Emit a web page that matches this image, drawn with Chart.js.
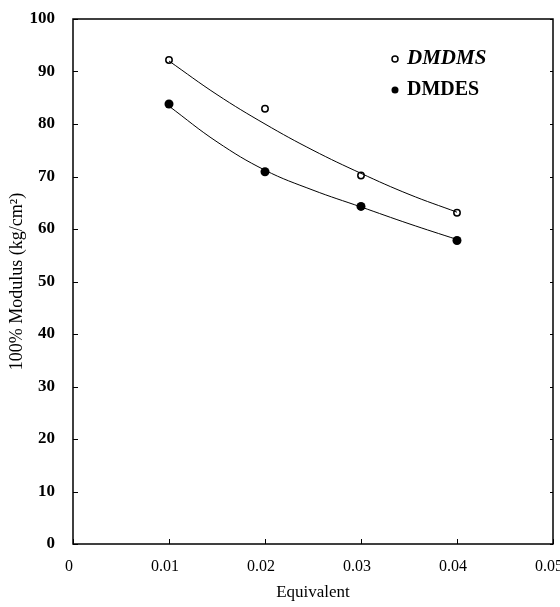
<!DOCTYPE html>
<html>
<head>
<meta charset="utf-8">
<script src="https://cdn.jsdelivr.net/npm/chart.js@4"></script>
<style>
  html, body { margin: 0; padding: 0; background: #fff; overflow: hidden; }
  #wrap { width: 560px; height: 607px; }
</style>
</head>
<body>
<div id="wrap"><canvas id="cv"></canvas></div>
<script>
// measured points
let equiv = [0.01, 0.02, 0.03, 0.04];
let dmdms = [92.2, 82.9, 70.2, 63.1];
let dmdes = [83.8, 70.9, 64.3, 57.8];

// fitted curves
let fitX = [0.01, 0.015, 0.02, 0.025, 0.03, 0.035, 0.04];
let fitDmdms = [92.0, 85.6, 80.0, 75.0, 70.6, 66.6, 63.2];
let fitDmdes = [83.4, 76.6, 71.2, 67.4, 64.2, 61.0, 58.0];

let xTicks = [0, 0.01, 0.02, 0.03, 0.04, 0.05];
let yTicks = [0, 10, 20, 30, 40, 50, 60, 70, 80, 90, 100];

function pts(xs, ys){
    return xs.map(function(x, i){ return {x: x, y: ys[i]}; });
}

// frame, inward ticks and legend
let framePlugin = {
    id: 'frame',
    afterDraw: function(chart){
        let c = chart.ctx;
        let a = chart.chartArea;
        let xs = chart.scales.x;
        let ys = chart.scales.y;
        c.save();
        c.strokeStyle = '#000';
        c.lineWidth = 1.5;
        c.strokeRect(a.left, a.top, a.right - a.left, a.bottom - a.top);
        c.lineWidth = 1;
        c.beginPath();
        xTicks.forEach(function(v){
            let px = Math.round(xs.getPixelForValue(v)) + 0.5;
            c.moveTo(px, a.bottom);
            c.lineTo(px, a.bottom - 5);
        });
        yTicks.forEach(function(v){
            let py = Math.round(ys.getPixelForValue(v)) + 0.5;
            c.moveTo(a.left, py);
            c.lineTo(a.left + 5, py);
            c.moveTo(a.right, py);
            c.lineTo(a.right - 3, py);
        });
        c.stroke();

        // legend
        let lx = a.left + 322;
        let ly1 = a.top + 40;
        let ly2 = a.top + 71;
        c.beginPath();
        c.arc(lx, ly1, 3, 0, Math.PI * 2);
        c.fillStyle = '#fff';
        c.fill();
        c.lineWidth = 1.5;
        c.stroke();
        c.beginPath();
        c.arc(lx, ly2, 3.5, 0, Math.PI * 2);
        c.fillStyle = '#000';
        c.fill();
        c.textBaseline = 'middle';
        c.textAlign = 'left';
        c.font = 'italic bold 21px "Liberation Serif"';
        c.fillText('DMDMS', lx + 12, ly1);
        c.font = 'bold 20px "Liberation Serif"';
        c.fillText('DMDES', lx + 12, ly2);
        c.restore();
    }
};

function loadGrafico(){
    let ctx = document.getElementById('cv').getContext('2d');
    new Chart(ctx, {
        type: 'scatter',
        data: {
            datasets: [{
                label: 'DMDMS fit',
                data: pts(fitX, fitDmdms),
                showLine: true,
                tension: 0.4,
                borderColor: '#000',
                borderWidth: 1,
                pointRadius: 0
            }, {
                label: 'DMDES fit',
                data: pts(fitX, fitDmdes),
                showLine: true,
                tension: 0.4,
                borderColor: '#000',
                borderWidth: 1,
                pointRadius: 0
            }, {
                label: 'DMDMS',
                data: pts(equiv, dmdms),
                pointRadius: 3.2,
                pointBorderWidth: 1.5,
                pointBackgroundColor: '#fff',
                pointBorderColor: '#000'
            }, {
                label: 'DMDES',
                data: pts(equiv, dmdes),
                pointRadius: 4.5,
                pointBorderWidth: 0,
                pointBackgroundColor: '#000',
                pointBorderColor: '#000'
            }]
        },
        plugins: [framePlugin],
        options: {
            responsive: true,
            maintainAspectRatio: false,
            animation: false,
            layout: { padding: { top: 19, right: 7, left: 0, bottom: 0 } },
            plugins: {
                legend: { display: false },
                tooltip: { enabled: false }
            },
            scales: {
                x: {
                    type: 'linear',
                    min: 0,
                    max: 0.05,
                    grid: { display: false },
                    border: { display: false },
                    ticks: {
                        stepSize: 0.01,
                        color: '#000',
                        padding: 5,
                        labelOffset: -4,
                        font: { family: 'Liberation Serif', size: 16 },
                        callback: function(v){ return v === 0 ? '0' : v.toFixed(2); }
                    },
                    title: {
                        display: true,
                        text: 'Equivalent',
                        color: '#000',
                        font: { family: 'Liberation Serif', size: 17 },
                        padding: { top: 8 }
                    },
                    afterFit: function(s){
                        s.height = 63;
                        s.paddingLeft = 0;
                        s.paddingRight = 0;
                    }
                },
                y: {
                    min: 0,
                    max: 100,
                    grid: { display: false },
                    border: { display: false },
                    ticks: {
                        stepSize: 10,
                        color: '#000',
                        padding: 10,
                        font: { family: 'Liberation Serif', size: 17, weight: 'bold' }
                    },
                    title: {
                        display: true,
                        text: '100% Modulus (kg/cm²)',
                        color: '#000',
                        font: { family: 'Liberation Serif', size: 18 },
                        padding: { top: 6, bottom: 0 }
                    },
                    afterFit: function(s){
                        s.width = 73;
                        s.paddingTop = 0;
                        s.paddingBottom = 0;
                    }
                }
            }
        }
    });
}

loadGrafico();
</script>
</body>
</html>
